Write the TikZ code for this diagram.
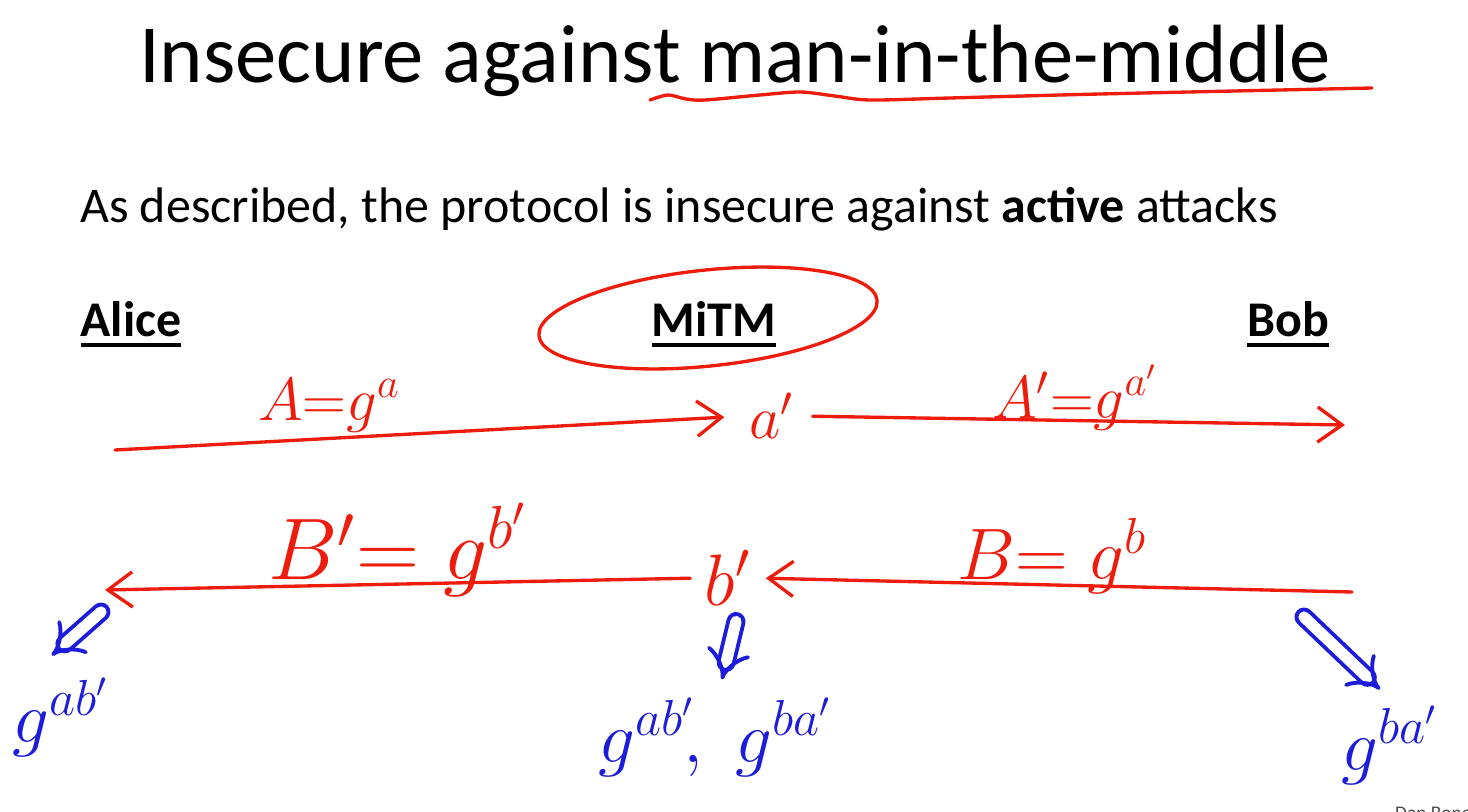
\documentclass[tikz,border=0pt]{standalone}
\usepackage{amsmath}
\usepackage{fontspec}
\setmainfont{Carlito}
\usepackage{tikz}
\usetikzlibrary{arrows.meta,positioning}
\definecolor{Ink}{RGB}{238,28,12}
\definecolor{Pen}{RGB}{28,28,218}
\newcommand{\partyname}[1]{\setbox0\hbox{\bfseries #1}\rlap{\rule[-2.9pt]{\wd0}{1.1pt}}\box0}

\begin{document}
\begin{tikzpicture} [x=0.01cm, y=-0.01cm,
       >={Straight Barb[length=7pt,width=10pt]}, line cap=round, line join=round,
       every node/.style={inner sep=1pt},
       slidetitle/.style={font=\fontsize{23.5}{28}\selectfont},
       slidetext/.style={font=\fontsize{14.2}{17}\selectfont},
       party/.style={font=\fontsize{14.2}{17}\selectfont},
       redink/.style={Ink, line width=0.95pt},
       redlabel/.style 2 args={text=Ink, font=\fontsize{#1}{#1}\selectfont, anchor=base west, at={#2}},
       bluekey/.style={text=Pen, font=\fontsize{20}{20}\selectfont, anchor=base},
       derive/.style={Pen, line width=1.1pt, double, double distance=3.2pt, -{Implies}}]
	\useasboundingbox (0,0) rectangle (1468,812);

	%% Slide texts
	\node [slidetitle,anchor=base] (title) at (735,83) {Insecure against man-in-the-middle};
	\node [slidetext,anchor=base west] (intro) at (76,222) {As described, the protocol is insecure against \textbf{active} attacks};
	\draw [redink] plot [smooth] coordinates {(650,100) (668,95) (686,99) (705,100) (760,95) (800,92) (835,96) (870,100) (950,98) (1100,94) (1372,88)};

	%% Parties
	\node [party,anchor=base] (alice) at (131,337) {\partyname{Alice}};
	\node [party,anchor=base] (mitm) at (714,337) {\partyname{MiTM}};
	\node [party,anchor=base] (bob) at (1288,337) {\partyname{Bob}};
	\draw [redink] (708,318) ellipse [x radius=170, y radius=48, rotate=6];

	%% Secrets of the attacker
	\node [text=Ink,font=\fontsize{18}{18}\selectfont] (am) at (772,416) {$a'$};
	\node [text=Ink,font=\fontsize{22}{22}\selectfont] (bm) at (728,578) {$b'$};

	%% Free ends
	\coordinate (aliceOut) at (115,450);
	\coordinate (bobIn) at (1345,425);
	\coordinate (bobOut) at (1352,592);
	\coordinate (aliceIn) at (105,590);

	%% Messages
	\draw [redink,->,shorten >=6pt] (aliceOut) -- (am.west);
	\draw [redink,->,shorten <=4pt] (am.east) -- (bobIn);
	\draw [redink,->,shorten >=3pt] (bobOut) -- (bm.east);
	\draw [redink,->,shorten <=3pt] (bm.west) -- (aliceIn);
	\node [redlabel={17}{(254,420)}] (msgA) {$A{=}g^{a}$};
	\node [redlabel={17}{(988,418)}] (msgAp) {$A'{=}g^{a'}$};
	\node [redlabel={23}{(264,580)}] (msgBp) {$B'{=}\;g^{b'}$};
	\node [redlabel={22}{(953,580)}] (msgB) {$B{=}\;g^{b}$};

	%% Derived keys
	\node [bluekey,anchor=base west] (kA) at (8,742) {$g^{ab'}$};
	\node [bluekey] (kM) at (716,762) {$g^{ab'}\!,\; g^{ba'}$};
	\node [bluekey] (kB) at (1390,770) {$g^{ba'}$};
	\draw [derive] ([shift={(-4,22)}]aliceIn) -- ([shift={(-9,-18)}]kA.north);
	\draw [derive] ([shift={(8,12)}]bm.south) -- ([shift={(6,-14)}]kM.north);
	\draw [derive] ([shift={(-48,25)}]bobOut) -- ([shift={(-10,-12)}]kB.north);

	%% Watermark
	\node [anchor=north west,text=black!70,font=\fontsize{5.5}{6}\selectfont] (credit) at (1391,802) {Dan Boneh};
\end{tikzpicture}
\end{document}
